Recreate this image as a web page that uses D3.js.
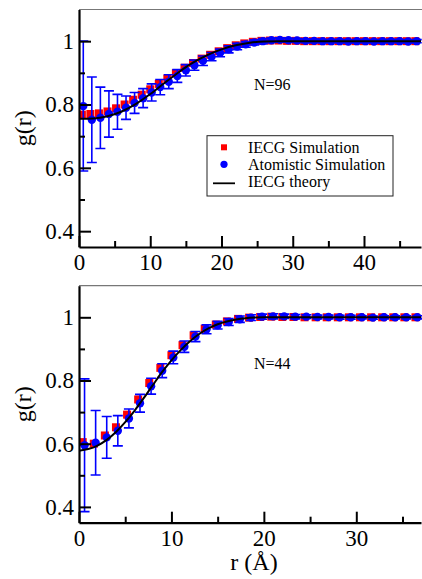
<!DOCTYPE html>
<html>
<head>
<meta charset="utf-8">
<script src="https://cdn.jsdelivr.net/npm/d3@7"></script>
<style>
  body { margin: 0; background: #fff; }
  svg text { font-family: "Liberation Serif", "DejaVu Serif", serif; fill: #000; }
</style>
</head>
<body>
<div id="chart"></div>
<script>
// ---- data: top panel (N=96) ----
const topR = [0.6,1.8,3.0,4.2,5.4,6.6,7.8,9.0,10.2,11.4,12.6,13.8,15.0,16.2,17.4,18.6,19.8,21.0,22.2,23.4,
              24.6,25.8,27.0,28.2,29.4,30.6,31.8,33.0,34.2,35.4,36.6,37.8,39.0,40.2,41.4,42.6,43.8,45.0,46.2,47.4];
const topAtom = [0.795,0.752,0.758,0.770,0.777,0.790,0.805,0.820,0.838,0.855,0.872,0.890,0.908,0.924,0.938,0.951,0.963,0.974,0.983,0.990,
                 0.996,1.000,1.003,1.004,1.003,1.002,1.001,1.001,1.000,1.000,1.000,0.999,1.000,1.000,0.999,1.000,1.000,1.000,0.999,1.000];
const topAtomErr = [0.205,0.135,0.097,0.073,0.055,0.037,0.033,0.030,0.027,0.024,0.022,0.020,0.018,0.016,0.015,0.013,0.012,0.011,0.010,0.009,
                    0.008,0.008,0.007,0.007,0.006,0.006,0.006,0.006,0.005,0.005,0.005,0.005,0.005,0.005,0.005,0.005,0.005,0.005,0.005,0.005];
const topIecgR = [0.4,1.6,2.8,4.0,5.2,6.4,7.6,8.8,10.0,11.2,12.4,13.6,14.8,16.0,17.2,18.4,19.6,20.8,22.0,23.2,
                  24.4,25.6,26.8,28.0,29.2,30.4,31.6,32.8,34.0,35.2,36.4,37.6,38.8,40.0,41.2,42.4,43.6,44.8,46.0,47.2];
const topIecg = [0.768,0.770,0.772,0.778,0.788,0.800,0.815,0.831,0.848,0.865,0.882,0.899,0.916,0.931,0.945,0.957,0.968,0.978,0.987,0.993,
                 0.998,1.001,1.002,1.002,1.001,1.001,1.000,1.000,1.000,1.000,1.000,1.000,1.000,1.000,1.000,1.000,1.000,1.000,1.000,1.000];
const topTheoryR = [0,2,4,6,8,10,12,14,16,18,20,22,24,26,28,30,34,38,42,46,48];
const topTheory = [0.755,0.756,0.763,0.778,0.802,0.833,0.868,0.902,0.932,0.956,0.974,0.987,0.995,0.999,1.000,1.000,1.000,1.000,1.000,1.000,1.000];

// ---- data: bottom panel (N=44) ----
const botR = [0.6,1.8,3.0,4.2,5.4,6.6,7.8,9.0,10.2,11.4,12.6,13.8,15.0,16.2,17.4,18.6,19.8,21.0,22.2,23.4,
              24.6,25.8,27.0,28.2,29.4,30.6,31.8,33.0,34.2,35.4,36.6];
const botAtom = [0.595,0.603,0.620,0.641,0.680,0.728,0.782,0.831,0.873,0.907,0.939,0.962,0.975,0.985,0.994,0.999,1.002,1.003,1.003,1.002,
                 1.002,1.001,1.001,1.000,1.000,1.000,0.999,1.000,1.000,1.000,1.000];
const botAtomErr = [0.210,0.102,0.066,0.048,0.030,0.028,0.025,0.022,0.020,0.018,0.016,0.014,0.012,0.011,0.010,0.009,0.008,0.008,0.007,0.007,
                    0.006,0.006,0.006,0.006,0.006,0.005,0.005,0.005,0.005,0.005,0.005];
const botIecgR = [0.4,1.6,2.8,4.0,5.2,6.4,7.6,8.8,10.0,11.2,12.4,13.6,14.8,16.0,17.2,18.4,19.6,20.8,22.0,23.2,
                  24.4,25.6,26.8,28.0,29.2,30.4,31.6,32.8,34.0,35.2,36.4];
const botIecg = [0.605,0.600,0.626,0.652,0.692,0.740,0.792,0.840,0.880,0.912,0.943,0.964,0.977,0.987,0.995,0.999,1.001,1.002,1.001,1.001,
                 1.000,1.000,1.000,1.000,1.000,1.000,1.000,1.000,1.000,1.000,1.000];
const botTheoryR = [0,1,2,3,4,5,6,7,8,9,10,11,12,13,14,15,16,17,18,19,20,24,28,32,37];
const botTheory = [0.578,0.583,0.594,0.612,0.637,0.668,0.704,0.744,0.786,0.827,0.864,0.896,0.924,0.947,0.965,0.978,0.987,0.993,0.997,0.999,1.000,1.000,1.000,1.000,1.000];

const yTicks = [0.4, 0.6, 0.8, 1];
const yMinor = [0.5, 0.7, 0.9];
const legendLabels = ["IECG Simulation", "Atomistic Simulation", "IECG theory"];

const W = 422, H = 579;
const serif = "'Liberation Serif', 'DejaVu Serif', serif";
const svg = d3.select("#chart").append("svg").attr("width", W).attr("height", H);

function drawPanel(opt) {
    const x = d3.scaleLinear().domain(opt.xDomain).range([79, 421]);
    const y = d3.scaleLinear().domain([0.35, 1.1]).range([opt.bottom, opt.top]);
    const g = svg.append("g");
    const clipId = "clip" + opt.id;

    g.append("clipPath").attr("id", clipId)
     .append("rect").attr("x", 79).attr("y", opt.top).attr("width", 343).attr("height", opt.bottom - opt.top);

    // frame top line (gray)
    g.append("line")
     .attr("x1", 79).attr("x2", W).attr("y1", opt.top).attr("y2", opt.top)
     .attr("stroke", "#777").attr("stroke-width", 1.2);

    const plot = g.append("g").attr("clip-path", `url(#${clipId})`);

    // IECG simulation squares
    plot.selectAll(".sq").data(opt.iecgR).enter().append("rect")
        .attr("x", (d, i) => x(d) - 4)
        .attr("y", (d, i) => y(opt.iecg[i]) - 4)
        .attr("width", 8).attr("height", 8)
        .attr("fill", "#ff0000");

    // atomistic error bars
    const eb = plot.selectAll(".eb").data(opt.atomR).enter().append("g")
        .attr("stroke", "#0000ff").attr("stroke-width", 1.6);
    eb.append("line")
      .attr("x1", d => x(d)).attr("x2", d => x(d))
      .attr("y1", (d, i) => y(opt.atom[i] + opt.err[i]))
      .attr("y2", (d, i) => y(opt.atom[i] - opt.err[i]));
    eb.append("line")
      .attr("x1", d => x(d) - 5).attr("x2", d => x(d) + 5)
      .attr("y1", (d, i) => y(opt.atom[i] + opt.err[i]))
      .attr("y2", (d, i) => y(opt.atom[i] + opt.err[i]));
    eb.append("line")
      .attr("x1", d => x(d) - 5).attr("x2", d => x(d) + 5)
      .attr("y1", (d, i) => y(opt.atom[i] - opt.err[i]))
      .attr("y2", (d, i) => y(opt.atom[i] - opt.err[i]));

    // atomistic dots
    plot.selectAll(".dot").data(opt.atomR).enter().append("circle")
        .attr("cx", d => x(d))
        .attr("cy", (d, i) => y(opt.atom[i]))
        .attr("r", 4.2)
        .attr("fill", "#0000ff");

    // theory curve
    const line = d3.line()
        .x(d => x(d[0]))
        .y(d => y(d[1]))
        .curve(d3.curveMonotoneX);
    plot.append("path")
        .datum(opt.thR.map((r, i) => [r, opt.th[i]]))
        .attr("d", line)
        .attr("fill", "none")
        .attr("stroke", "#000")
        .attr("stroke-width", 2);

    // axes
    const xAxis = g.append("g").attr("transform", `translate(0,${opt.bottom})`)
        .call(d3.axisBottom(x).tickValues(opt.xTicks).tickFormat(d3.format("d"))
              .tickSizeInner(-11).tickSizeOuter(0).tickPadding(7));
    g.append("g").attr("transform", `translate(0,${opt.bottom})`)
        .call(d3.axisBottom(x).tickValues(opt.xMinor).tickFormat("")
              .tickSizeInner(-6).tickSizeOuter(0))
        .select(".domain").remove();
    const yAxis = g.append("g").attr("transform", "translate(79,0)")
        .call(d3.axisLeft(y).tickValues(yTicks).tickFormat(d => d === 1 ? "1" : d3.format(".1f")(d))
              .tickSizeInner(-12).tickSizeOuter(0).tickPadding(5));
    g.append("g").attr("transform", "translate(79,0)")
        .call(d3.axisLeft(y).tickValues(yMinor).tickFormat("")
              .tickSizeInner(-6).tickSizeOuter(0))
        .select(".domain").remove();

    g.selectAll(".tick line").attr("stroke", "#000").attr("stroke-width", 2);
    g.selectAll(".domain").attr("stroke", "#000").attr("stroke-width", 2.2);
    [xAxis, yAxis].forEach(ax => {
        ax.attr("font-family", serif).attr("font-size", 23);
        ax.selectAll("text").style("font-family", serif).style("font-size", "23px");
    });

    // y label
    g.append("text")
     .attr("transform", `translate(31,${(opt.top + opt.bottom) / 2}) rotate(-90)`)
     .attr("text-anchor", "middle")
     .style("font-size", "24px")
     .text("g(r)");

    // N label
    g.append("text")
     .attr("x", 254).attr("y", opt.nY)
     .style("font-size", "16px")
     .text(opt.nLabel);

    return g;
}

drawPanel({
    id: "top", top: 9.5, bottom: 247, xDomain: [0, 48],
    xTicks: [0, 10, 20, 30, 40], xMinor: [5, 15, 25, 35, 45],
    atomR: topR, atom: topAtom, err: topAtomErr,
    iecgR: topIecgR, iecg: topIecg,
    thR: topTheoryR, th: topTheory,
    nLabel: "N=96", nY: 90
});

drawPanel({
    id: "bot", top: 285.7, bottom: 522.7, xDomain: [0, 37],
    xTicks: [0, 10, 20, 30], xMinor: [5, 15, 25, 35],
    atomR: botR, atom: botAtom, err: botAtomErr,
    iecgR: botIecgR, iecg: botIecg,
    thR: botTheoryR, th: botTheory,
    nLabel: "N=44", nY: 369
});

// legend (top panel)
const legend = svg.append("g");
legend.append("rect")
      .attr("x", 207).attr("y", 135.7).attr("width", 186).attr("height", 60.3)
      .attr("fill", "#fff").attr("stroke", "#222").attr("stroke-width", 1);
legend.append("rect").attr("x", 221).attr("y", 144.3).attr("width", 6).attr("height", 6).attr("fill", "#ff0000");
legend.append("circle").attr("cx", 224).attr("cy", 164.3).attr("r", 3.6).attr("fill", "#0000ff");
legend.append("line").attr("x1", 213).attr("x2", 235).attr("y1", 183.3).attr("y2", 183.3)
      .attr("stroke", "#000").attr("stroke-width", 1.8);
legend.selectAll(".lt").data(legendLabels).enter().append("text")
      .attr("x", 248)
      .attr("y", (d, i) => 152.7 + i * 17)
      .style("font-size", "16px")
      .text(d => d);

// x axis title
svg.append("text")
   .attr("x", 254).attr("y", 570)
   .attr("text-anchor", "middle")
   .style("font-size", "24px")
   .text("r (Å)");
</script>
</body>
</html>
